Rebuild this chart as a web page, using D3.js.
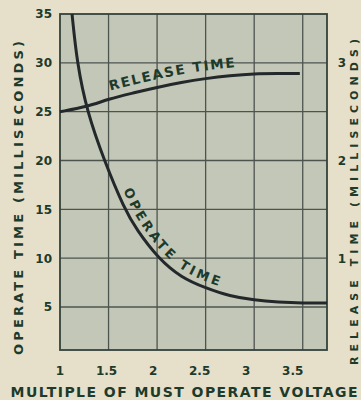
<!DOCTYPE html>
<html lang="en">
<head>
<meta charset="UTF-8">
<title>operate / release time</title>
<style>
  * { box-sizing: border-box; }
  body { margin: 0; background: #e6dfca; }
  #main { width: 361px; height: 400px; }
  text { font-family: "DejaVu Sans", sans-serif; font-weight: bold; fill: #1d3a2b; }
</style>
</head>
<body>
<div id="main"></div>
<script src="https://d3js.org/d3.v7.min.js"></script>
<script>
// data
const xTicks = [1, 1.5, 2, 2.5, 3, 3.5]
const yTicks = [5, 10, 15, 20, 25, 30, 35]
const rightTicks = [1, 2, 3]          // release time axis, sits on the 10/20/30 grid
const operateX = [1.124, 1.175, 1.278, 1.455, 1.665, 1.79, 2.01, 2.25, 2.5, 2.75, 3, 3.25, 3.5, 3.75]
const operateY = [35, 30, 25, 20, 15, 12.9, 10, 8.0, 6.95, 6.1, 5.7, 5.5, 5.4, 5.4]
const releaseX = [1, 1.28, 1.5, 1.75, 2, 2.25, 2.5, 2.75, 3, 3.25, 3.47]
const releaseY = [25, 25.5, 26.3, 26.9, 27.5, 28.0, 28.4, 28.7, 28.9, 28.9, 28.9]

const [width, height] = [361, 400]
const svg = d3.select('#main').append('svg')
  .attr('width', width)
  .attr('height', height)
  .attr('viewBox', `0 0 ${width} ${height}`)

const x = d3.scaleLinear().domain([1, 3.75]).range([60, 327])
const y = d3.scaleLinear().domain([0.6, 35]).range([350, 14])

// plot background
svg.append('rect')
  .attr('x', x(1)).attr('y', y(35))
  .attr('width', x(3.75) - x(1)).attr('height', y(0.6) - y(35))
  .attr('fill', '#c3c7b7')

// grid
const grid = svg.append('g').attr('stroke', '#4d544e').attr('stroke-width', 1.3)
grid.selectAll('.vx').data(xTicks.slice(1)).join('line')
  .attr('x1', d => x(d)).attr('x2', d => x(d))
  .attr('y1', y(35)).attr('y2', y(0.6))
grid.selectAll('.hy').data(yTicks.slice(0, -1)).join('line')
  .attr('x1', x(1)).attr('x2', x(3.75))
  .attr('y1', d => y(d)).attr('y2', d => y(d))

svg.append('rect')
  .attr('x', x(1)).attr('y', y(35))
  .attr('width', x(3.75) - x(1)).attr('height', y(0.6) - y(35))
  .attr('fill', 'none').attr('stroke', '#34423a').attr('stroke-width', 1.8)

// curves
const line = d3.line().x(d => x(d[0])).y(d => y(d[1])).curve(d3.curveBasis)
const operate = operateX.map((v, i) => [v, operateY[i]])
const release = releaseX.map((v, i) => [v, releaseY[i]])

svg.append('path').attr('d', line(operate))
  .attr('fill', 'none').attr('stroke', '#23282a').attr('stroke-width', 3)
svg.append('path').attr('d', line(release))
  .attr('fill', 'none').attr('stroke', '#23282a').attr('stroke-width', 3)

// parallel copy of a curve, shifted d px to its upper/right side
function offsetPath(pts, d) {
  const node = svg.append('path').attr('d', line(pts)).node()
  const total = node.getTotalLength()
  const out = []
  for (let l = 0; l <= total; l += 2) {
    const a = node.getPointAtLength(Math.max(0, l - 1))
    const b = node.getPointAtLength(Math.min(total, l + 1))
    const p = node.getPointAtLength(l)
    const tx = b.x - a.x, ty = b.y - a.y
    const n = Math.hypot(tx, ty) || 1
    out.push([p.x + d * ty / n, p.y - d * tx / n])
  }
  node.remove()
  return 'M' + out.map(p => p.join(',')).join('L')
}

const defs = svg.append('defs')
defs.append('path').attr('id', 'opPath').attr('d', offsetPath(operate, 6))
defs.append('path').attr('id', 'relPath').attr('d', offsetPath(release, 8))

function offsetWhere(id, test) {
  const node = svg.select('#' + id).node()
  const total = node.getTotalLength()
  let l = 0
  while (l < total && !test(node.getPointAtLength(l))) l += 0.5
  return l
}

// curve labels, spread to the length they take in the picture
function curveLabel(id, label, size, start, span) {
  const t = svg.append('text').attr('font-size', size)
  t.append('textPath').attr('href', '#' + id)
    .attr('startOffset', start).text(label)
  const natural = t.node().getComputedTextLength()
  t.attr('letter-spacing', Math.max(0, (span - natural) / (label.length - 1)))
}

curveLabel('opPath', 'OPERATE TIME', 13,
  offsetWhere('opPath', p => p.y >= 190), 140)
curveLabel('relPath', 'RELEASE TIME', 13.5,
  offsetWhere('relPath', p => p.x >= 110), 127)

// tick labels
svg.selectAll('.yl').data(yTicks).join('text')
  .attr('x', 52).attr('y', d => y(d)).attr('dy', '0.36em')
  .attr('text-anchor', 'end').attr('font-size', 12)
  .text(d => d)

svg.selectAll('.rl').data(rightTicks).join('text')
  .attr('x', 342).attr('y', d => y(d * 10)).attr('dy', '0.36em')
  .attr('text-anchor', 'middle').attr('font-size', 12)
  .text(d => d)

svg.selectAll('.xl').data(xTicks).join('text')
  .attr('x', d => x(d) - 4 * (d - 1)).attr('y', 371).attr('dy', '0.36em')
  .attr('text-anchor', 'middle').attr('font-size', 12)
  .text(d => d)

// axis titles
svg.append('text')
  .attr('x', 184).attr('y', 397)
  .attr('text-anchor', 'middle').attr('font-size', 14)
  .attr('textLength', 347).attr('lengthAdjust', 'spacing')
  .text('MULTIPLE OF MUST OPERATE VOLTAGE')

svg.append('text')
  .attr('transform', 'translate(23,198) rotate(-90)')
  .attr('text-anchor', 'middle').attr('font-size', 13)
  .attr('textLength', 314).attr('lengthAdjust', 'spacing')
  .text('OPERATE TIME (MILLISECONDS)')

svg.append('text')
  .attr('transform', 'translate(358,202) rotate(-90)')
  .attr('text-anchor', 'middle').attr('font-size', 11)
  .attr('textLength', 326).attr('lengthAdjust', 'spacing')
  .text('RELEASE TIME (MILLISECONDS)')
</script>
</body>
</html>
